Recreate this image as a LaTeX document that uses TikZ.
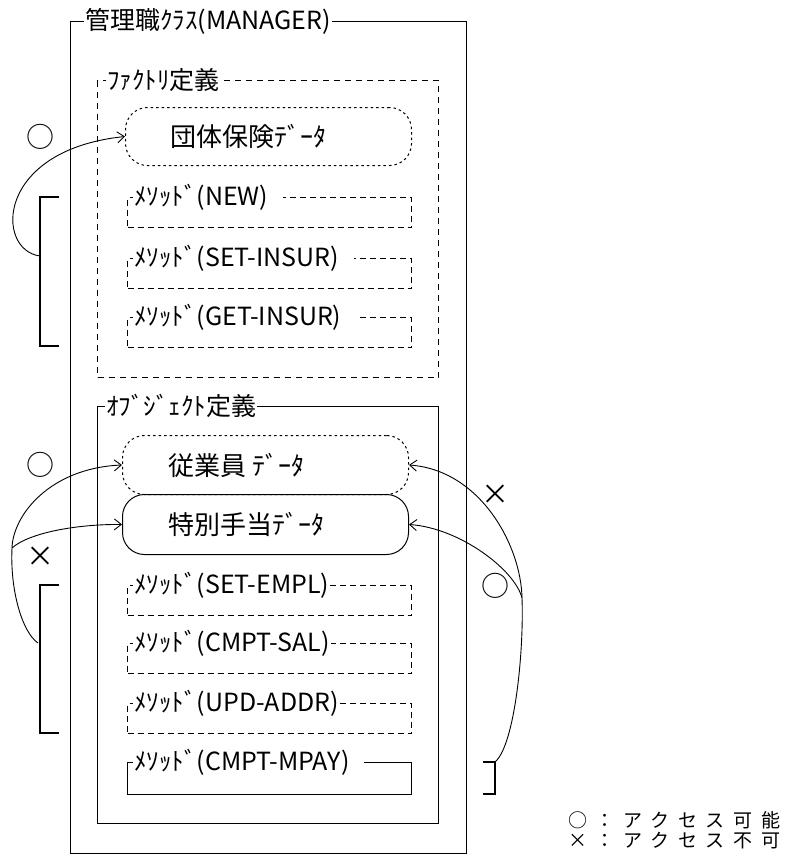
\documentclass[tikz,border=0pt]{standalone}
\usepackage{fontspec}
\setmainfont{Noto Sans CJK JP}
\newfontfamily\jpwide[LetterSpace=46]{Noto Sans CJK JP}
\usetikzlibrary{arrows.meta}

\newcommand{\fsz}[1]{\fontsize{#1}{#1}\selectfont}

\begin{document}
\begin{tikzpicture}[x=1pt,y=-1pt,
  >={Straight Barb[length=7pt,width=11pt]},
  box/.style={draw,line width=1.3pt,anchor=north west,inner sep=0pt},
  dbox/.style={box,dash pattern=on 6pt off 5pt},
  mbox/.style={draw,line width=1.1pt,anchor=north west,inner sep=0pt,minimum width=284pt,minimum height=30pt},
  dmbox/.style={mbox,dash pattern=on 6pt off 4pt},
  datafld/.style={draw,line width=1pt,anchor=north west,rounded corners=22pt,inner sep=0pt,minimum width=286pt},
  dotfld/.style={datafld,dash pattern=on 2.5pt off 3pt},
  ttl/.style={fill=white,anchor=west,inner sep=1pt,font=\fsz{25}},
  datalbl/.style={anchor=west,inner sep=0pt,font=\fsz{26}},
  acc/.style={->,line width=0.9pt},
  accmark/.style={font=\fsz{28},inner sep=0pt},
  brk/.style={line width=1.3pt},
  legend/.style={anchor=west,inner sep=0pt,font=\jpwide\fsz{19}}]

  \useasboundingbox (0,0) rectangle (793,867);

  % Manager class
  \node[box,minimum width=396pt,minimum height=832pt] (mgr) at (70,21) {};
  \node[ttl] (mgrttl) at (84,21) {管理職ｸﾗｽ(MANAGER)};

  % Factory definition
  \node[dbox,minimum width=341pt,minimum height=297pt] (fct) at (97,80) {};
  \node[ttl] (fctttl) at (106,80) {ﾌｧｸﾄﾘ定義};
  \node[dotfld,minimum height=58pt] (ins) at (125,107) {};
  \node[datalbl] (inslbl) at ([xshift=45pt]ins.west) {団体保険ﾃﾞｰﾀ};
  \node[dmbox] (mnew) at (127,197) {};
  \node[ttl] (mnewttl) at ([xshift=6pt]mnew.north west) {ﾒｿｯﾄﾞ(NEW)\hspace*{14pt}};
  \node[dmbox] (mset) at (127,258) {};
  \node[ttl] (msetttl) at ([xshift=6pt]mset.north west) {ﾒｿｯﾄﾞ(SET-INSUR)\hspace*{14pt}};
  \node[dmbox] (mget) at (127,317) {};
  \node[ttl] (mgetttl) at ([xshift=6pt]mget.north west) {ﾒｿｯﾄﾞ(GET-INSUR)\hspace*{14pt}};

  % Object definition
  \node[box,minimum width=341pt,minimum height=417pt] (obj) at (97,406) {};
  \node[ttl] (objttl) at (105,406) {ｵﾌﾞｼﾞｪｸﾄ定義};
  \node[dotfld,minimum height=59pt] (empl) at (122,435) {};
  \node[datafld,minimum height=60pt] (allow) at (122,494) {};
  \node[datalbl] (empllbl) at ([xshift=46pt]empl.west) {従業員 ﾃﾞｰﾀ};
  \node[datalbl] (allowlbl) at ([xshift=46pt]allow.west) {特別手当ﾃﾞｰﾀ};
  \node[dmbox] (mempl) at (127,585) {};
  \node[ttl] (memplttl) at ([xshift=6pt]mempl.north west) {ﾒｿｯﾄﾞ(SET-EMPL)};
  \node[dmbox] (msal) at (127,643) {};
  \node[ttl] (msalttl) at ([xshift=6pt]msal.north west) {ﾒｿｯﾄﾞ(CMPT-SAL)};
  \node[dmbox] (maddr) at (127,703) {};
  \node[ttl] (maddrttl) at ([xshift=6pt]maddr.north west) {ﾒｿｯﾄﾞ(UPD-ADDR)};
  \node[mbox,minimum height=32pt] (mpay) at (127,762) {};
  \node[ttl] (mpayttl) at ([xshift=6pt]mpay.north west) {ﾒｿｯﾄﾞ(CMPT-MPAY)\hspace*{14pt}};

  % Brackets
  \draw[brk] (59,197) -- (40,197) -- (40,346) -- (59,346);
  \coordinate (fbrk) at (40,256);
  \draw[brk] (59,585) -- (40,585) -- (40,733) -- (59,733);
  \coordinate (obrk) at (38,643);
  \draw[brk] (483,762) -- (495,762) -- (495,794) -- (483,794);
  \coordinate (mbrk) at (495,762);

  % Access from outside
  \draw[acc] (fbrk) .. controls (-5,250) and (-5,150) .. (ins.west);
  \coordinate (jl) at (12,548);
  \draw[acc] (obrk) .. controls (22,632) and (10,590) .. (jl) .. controls (13,515) and (50,468) .. (empl.west);
  \draw[acc] (jl) .. controls (30,532) and (80,524) .. (allow.west);
  \coordinate (jr) at (522,598);
  \draw[acc] (mbrk) .. controls (515,745) and (524,650) .. (jr) .. controls (521,545) and (480,470) .. (empl.east);
  \draw[acc] (jr) .. controls (515,570) and (460,528) .. (allow.east);

  \node[accmark] (okins) at (40,137) {○};
  \node[accmark] (okempl) at (40,465) {○};
  \node[accmark] (ngallow) at (40,557) {×};
  \node[accmark] (ngempl) at (495,495) {×};
  \node[accmark] (okallow) at (495,586) {○};

  % Legend
  \node[legend] (lgok) at (568,820) {○：アクセス可能};
  \node[legend] (lgng) at (568,841) {×：アクセス不可};
\end{tikzpicture}
\end{document}
